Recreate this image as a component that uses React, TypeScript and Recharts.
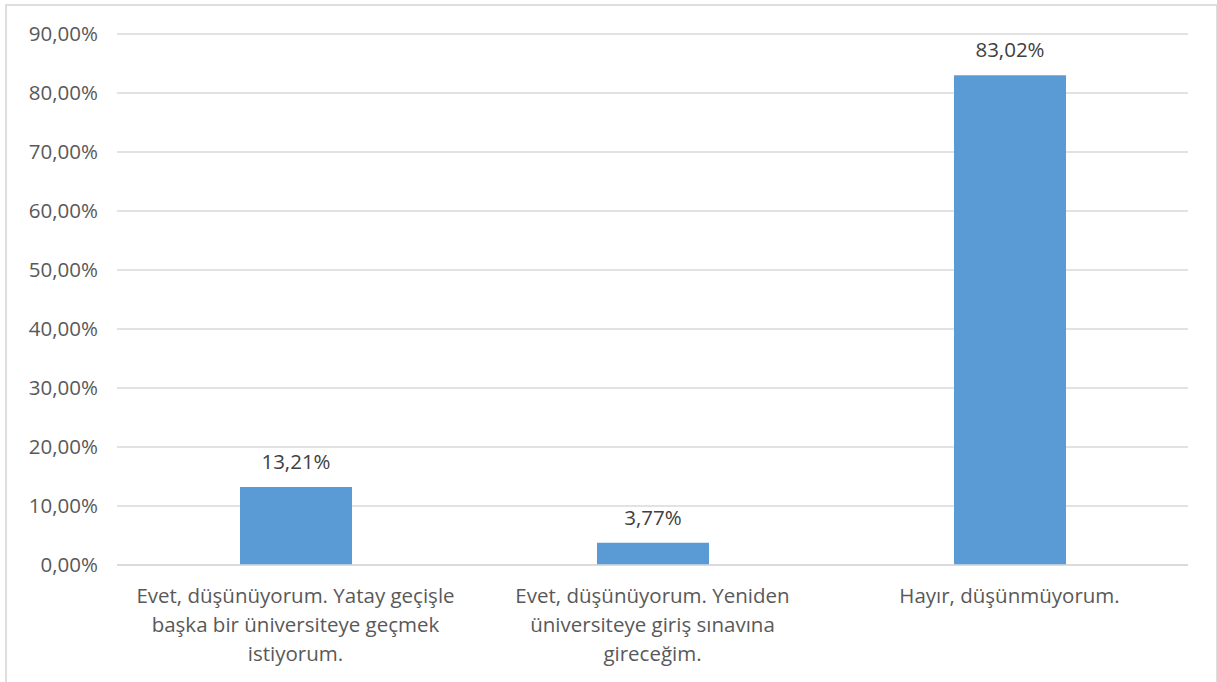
import React from 'react';
import { BarChart, Bar, XAxis, YAxis, CartesianGrid, LabelList } from 'recharts';

const categories = [
  'Evet, düşünüyorum. Yatay geçişle başka bir üniversiteye geçmek istiyorum.',
  'Evet, düşünüyorum. Yeniden üniversiteye giriş sınavına gireceğim.',
  'Hayır, düşünmüyorum.',
];
const values = [13.21, 3.77, 83.02];
const yTicks = [0, 10, 20, 30, 40, 50, 60, 70, 80, 90];
// wrapped lines of the category labels, as shown under the axis
const categoryLines = [
  ['Evet, düşünüyorum. Yatay geçişle', 'başka bir üniversiteye geçmek', 'istiyorum.'],
  ['Evet, düşünüyorum. Yeniden', 'üniversiteye giriş sınavına', 'gireceğim.'],
  ['Hayır, düşünmüyorum.'],
];

const fmt = (v: number) => v.toFixed(2).replace('.', ',') + '%';

const FONT = '"Open Sans", "Liberation Sans", sans-serif';

const CategoryTick = (props: any) => {
  const { x, y, payload } = props;
  const idx = categories.indexOf(payload.value);
  const lines = categoryLines[idx] || [payload.value];
  return (
    <text x={x} y={y} textAnchor="middle" fill="#595959" fontSize={20.5} fontFamily={FONT}>
      {lines.map((line, i) => (
        <tspan key={i} x={x} dy={i === 0 ? 38 : 29}>
          {line}
        </tspan>
      ))}
    </text>
  );
};

const App: React.FC = () => {
  const data = categories.map((name, i) => ({ name, value: values[i] }));

  return (
    <div style={{ position: 'absolute', left: 0, top: 0, width: 1217, height: 682, overflow: 'hidden', background: '#fff' }}>
      <div
        style={{
          position: 'absolute',
          left: 5,
          top: 4,
          width: 1209,
          height: 720,
          border: '2px solid #dedede',
        }}
      />
      <div style={{ position: 'absolute', left: 0, top: 0 }}>
        <BarChart width={1217} height={682} data={data} margin={{ top: 34, right: 29, bottom: 0, left: 1 }}>
          <CartesianGrid vertical={false} stroke="#d9d9d9" strokeWidth={1.5} />
          <XAxis
            dataKey="name"
            height={117}
            axisLine={{ stroke: '#d9d9d9', strokeWidth: 1.5 }}
            tickLine={false}
            tickSize={0}
            tickMargin={0}
            interval={0}
            tick={<CategoryTick />}
          />
          <YAxis
            width={116}
            domain={[0, 90]}
            ticks={yTicks}
            axisLine={false}
            tickLine={false}
            tickSize={0}
            tickMargin={19}
            tickFormatter={fmt}
            tick={{ fill: '#595959', fontSize: 20.5, fontFamily: FONT }}
          />
          <Bar dataKey="value" fill="#5b9bd5" barSize={112} isAnimationActive={false}>
            <LabelList
              dataKey="value"
              position="top"
              offset={18}
              formatter={(v: any) => fmt(Number(v))}
              fill="#404040"
              fontSize={20.5}
              fontFamily={FONT}
            />
          </Bar>
        </BarChart>
      </div>
    </div>
  );
};

export default App;
